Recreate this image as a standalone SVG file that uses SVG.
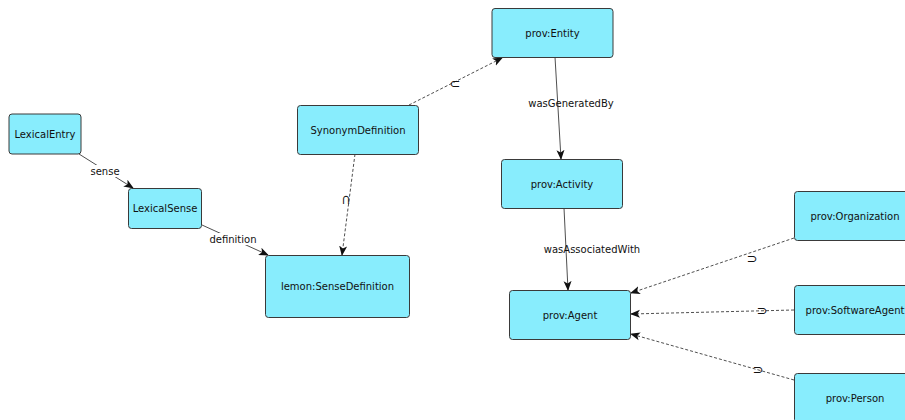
<svg xmlns="http://www.w3.org/2000/svg" width="905" height="420" viewBox="0 0 905 420">
  <style>
    .node rect { fill: #88edfd; stroke: #3a3a3a; stroke-width: 1; }
    .node text { font-family: "DejaVu Sans", sans-serif; font-size: 10px; fill: #111; text-anchor: middle; dominant-baseline: central; }
    .edge { stroke: #222; stroke-width: 0.8; fill: none; marker-end: url(#arrow); }
    .dashed { stroke-dasharray: 3 2; }
    .lbl { font-family: "DejaVu Sans", sans-serif; font-size: 10px; fill: #111; text-anchor: middle; dominant-baseline: central; }
    .sym { font-family: "DejaVu Sans", sans-serif; font-size: 13px; fill: #111; text-anchor: middle; dominant-baseline: central; }
    .lblbg { fill: #ffffff; }
  </style>
  <defs>
    <marker id="arrow" viewBox="0 0 10 10" refX="9" refY="5" markerWidth="10" markerHeight="10" markerUnits="userSpaceOnUse" orient="auto">
      <path d="M0,1 L10,5 L0,9 L2.5,5 Z" fill="#111"/>
    </marker>
  </defs>
  <rect width="905" height="420" fill="#ffffff"/>

  <!-- connectors -->
  <g id="edges">
    <line class="edge" x1="79" y1="154" x2="133" y2="188"/>
    <rect class="lblbg" x="89" y="165" width="32" height="12"/>
    <text class="lbl" x="105" y="171">sense</text>

    <line class="edge" x1="202" y1="225" x2="268" y2="255"/>
    <rect class="lblbg" x="208" y="233" width="50" height="12"/>
    <text class="lbl" x="233" y="239">definition</text>

    <line class="edge dashed" x1="409" y1="105" x2="502" y2="58"/>
    <text class="sym" x="455" y="83">⊂</text>

    <line class="edge dashed" x1="355" y1="154" x2="342" y2="255"/>
    <text class="sym" x="346" y="200" transform="rotate(90 346 200)">⊂</text>

    <line class="edge" x1="555" y1="57" x2="561" y2="159"/>
    <text class="lbl" x="571" y="103">wasGeneratedBy</text>

    <line class="edge" x1="564" y1="208" x2="568" y2="290"/>
    <text class="lbl" x="592" y="249">wasAssociatedWith</text>

    <line class="edge dashed" x1="794" y1="238" x2="631" y2="293"/>
    <text class="sym" x="752" y="258">⊃</text>

    <line class="edge dashed" x1="794" y1="310" x2="631" y2="314"/>
    <text class="sym" x="762" y="310">⊃</text>

    <line class="edge dashed" x1="794" y1="380" x2="631" y2="334"/>
    <text class="sym" x="758" y="369">⊃</text>
  </g>

  <!-- nodes -->
  <g id="LexicalEntry" class="node">
    <rect x="9" y="114" width="72" height="40" rx="3"/>
    <text x="45" y="134">LexicalEntry</text>
  </g>
  <g id="LexicalSense" class="node">
    <rect x="128.5" y="188.5" width="73" height="40" rx="3"/>
    <text x="165" y="208.5">LexicalSense</text>
  </g>
  <g id="SenseDefinition" class="node">
    <rect x="265.5" y="255.5" width="144" height="62" rx="3"/>
    <text x="337.5" y="286.5">lemon:SenseDefinition</text>
  </g>
  <g id="SynonymDefinition" class="node">
    <rect x="297.5" y="105.5" width="121" height="49" rx="3"/>
    <text x="358" y="130">SynonymDefinition</text>
  </g>
  <g id="Entity" class="node">
    <rect x="492" y="8.5" width="121" height="49" rx="3"/>
    <text x="552.5" y="33">prov:Entity</text>
  </g>
  <g id="Activity" class="node">
    <rect x="501.5" y="159.5" width="121" height="49" rx="3"/>
    <text x="562" y="184">prov:Activity</text>
  </g>
  <g id="Agent" class="node">
    <rect x="509.5" y="290.5" width="121" height="49" rx="3"/>
    <text x="570" y="315">prov:Agent</text>
  </g>
  <g id="Organization" class="node">
    <rect x="794.5" y="191.5" width="121" height="49" rx="3"/>
    <text x="855" y="216">prov:Organization</text>
  </g>
  <g id="SoftwareAgent" class="node">
    <rect x="794.5" y="285.5" width="121" height="49" rx="3"/>
    <text x="855" y="310">prov:SoftwareAgent</text>
  </g>
  <g id="Person" class="node">
    <rect x="794.5" y="373.5" width="121" height="49" rx="3"/>
    <text x="855" y="398">prov:Person</text>
  </g>
</svg>
